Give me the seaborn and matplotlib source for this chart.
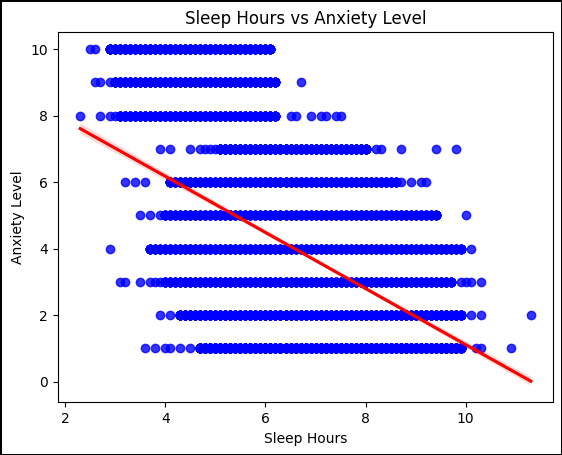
import numpy as np
import pandas as pd
import matplotlib
matplotlib.use("Agg")
import matplotlib.pyplot as plt
import seaborn as sns

# ------------------------------------------------------------
# Données (heures de sommeil au pas de 0.1)
# ------------------------------------------------------------
levels = [10, 9, 8, 7, 6, 5, 4, 3, 2, 1]

# plage continue de points pour chaque niveau d'anxiété
run_start = [2.9, 3.0, 3.1, 5.1, 4.1, 4.0, 3.7, 4.0, 4.3, 4.7]
run_end = [6.1, 6.2, 6.2, 8.0, 8.6, 9.4, 9.9, 9.7, 9.9, 9.9]
# nombre estimé de répondants par valeur dans la plage (points superposés)
run_repeats = [10, 10, 10, 13, 9, 8, 7, 8, 14, 33]

# points isolés hors de la plage continue
extra_points = [
    [2.5, 2.6],
    [2.6, 2.7, 2.9, 6.7],
    [2.3, 2.7, 2.9, 3.0, 6.5, 6.6, 6.9, 7.1, 7.2, 7.4, 7.5],
    [3.9, 4.1, 4.5, 4.7, 4.8, 4.9, 5.0, 8.2, 8.3, 8.7, 9.4, 9.8],
    [3.2, 3.4, 3.6, 8.7, 8.9, 9.1, 9.2],
    [3.5, 3.7, 3.9, 10.0],
    [2.9, 10.1],
    [3.1, 3.2, 3.5, 3.7, 3.8, 3.9, 9.9, 10.0, 10.1, 10.3],
    [3.9, 4.1, 10.1, 10.3, 11.3],
    [3.6, 3.8, 4.0, 4.1, 4.3, 4.5, 10.2, 10.3, 10.9],
]

rows = []
for lvl, a, b, rep, extra in zip(levels, run_start, run_end, run_repeats, extra_points):
    run = np.round(np.arange(a, b + 0.05, 0.1), 1)
    for s in np.repeat(run, rep):
        rows.append((s, lvl))
    for s in extra:
        rows.append((s, lvl))

df = pd.DataFrame(rows, columns=["Sleep Hours", "Anxiety Level"])

# ------------------------------------------------------------
# Graphique
# ------------------------------------------------------------
fig = plt.figure(figsize=(5.62, 4.55), dpi=100)
fig.patch.set_edgecolor("black")
fig.patch.set_linewidth(2)
ax = fig.add_axes([0.1027, 0.1158, 0.8819, 0.8132])

sns.regplot(data=df, x="Sleep Hours", y="Anxiety Level", ax=ax, seed=0,
            scatter_kws={"color": "blue"}, line_kws={"color": "red"})
ax.set_title("Sleep Hours vs Anxiety Level")
ax.set_xlabel("Sleep Hours")
ax.set_ylabel("Anxiety Level")

fig.savefig("out.png", dpi=100)
